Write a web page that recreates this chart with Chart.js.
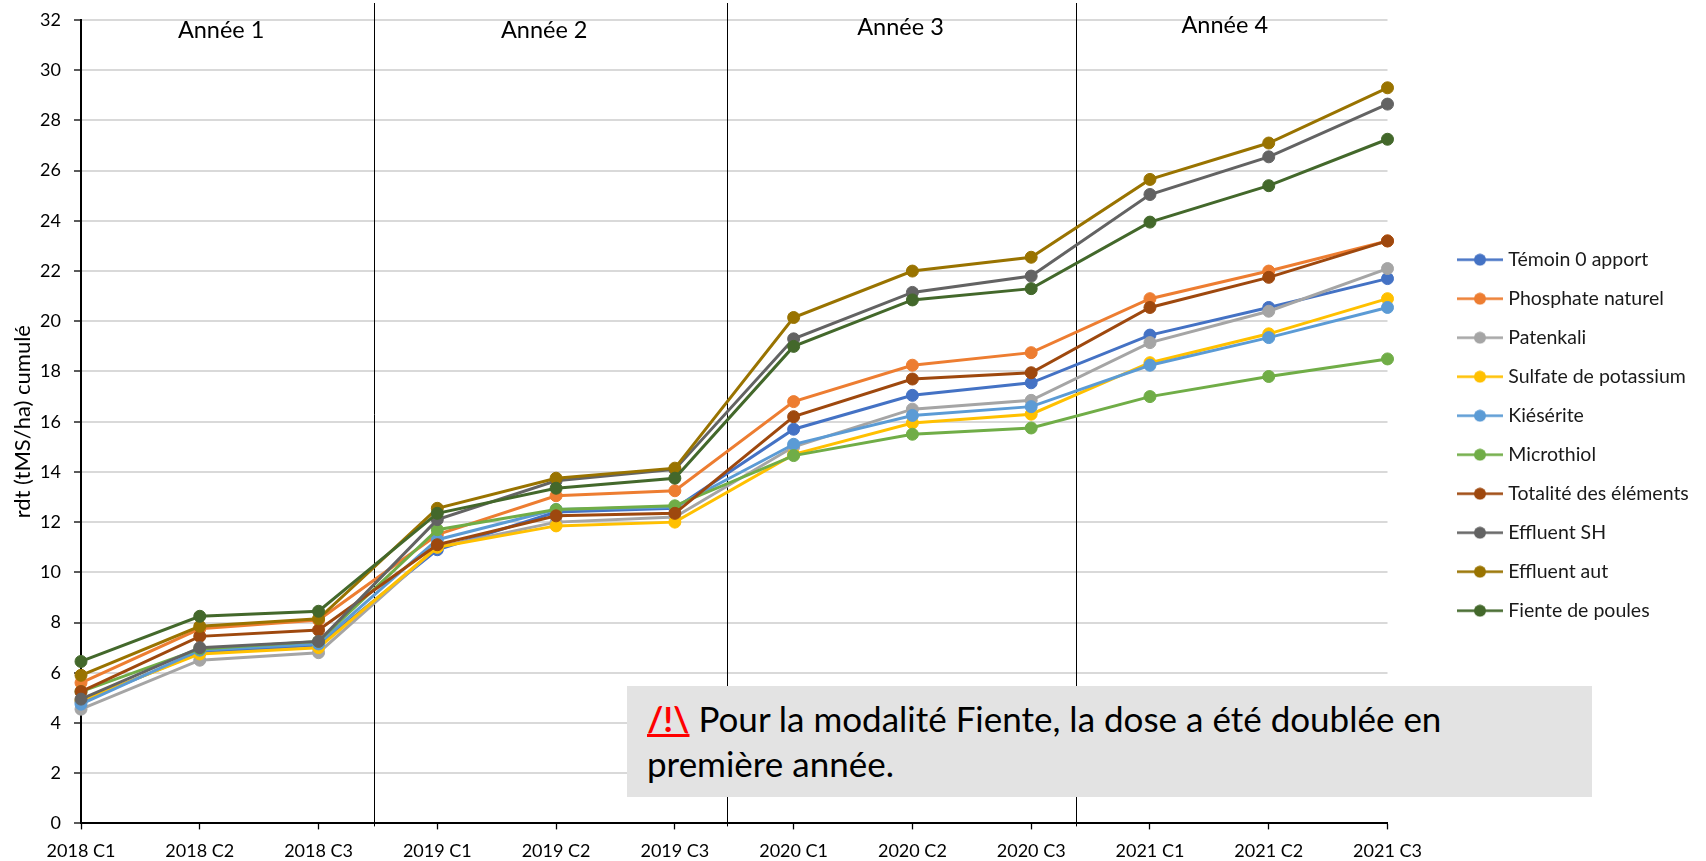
<!DOCTYPE html>
<html lang="fr">
<head>
<meta charset="utf-8">
<title>rdt cumulé</title>
<script src="https://cdn.jsdelivr.net/npm/chart.js@4"></script>
<style>
html,body{margin:0;padding:0;background:#fff;width:1706px;height:861px;overflow:hidden}
#wrap{position:relative;width:1706px;height:861px}
canvas{position:absolute;left:0;top:0}
#note{position:absolute;left:627px;top:686px;width:965px;height:111px;background:#e3e3e3;box-sizing:border-box;padding:10px 20px 0 20px;font:35px/45px Lato,sans-serif;color:#000}
#note .w{color:#f00;font-weight:700;text-decoration:underline;text-decoration-thickness:3px}
</style>
</head>
<body>
<div id="wrap">
<canvas id="c" width="1706" height="861"></canvas>
<div id="note"><span class="w">/!\</span> Pour la modalité Fiente, la dose a été doublée en<br>première année.</div>
</div>
<script>
const categories = ['2018 C1','2018 C2','2018 C3','2019 C1','2019 C2','2019 C3','2020 C1','2020 C2','2020 C3','2021 C1','2021 C2','2021 C3'];
const temoin    = [4.85,6.8,7.1,10.9,12.4,12.55,15.7,17.05,17.55,19.45,20.55,21.7];
const phosphate = [5.6,7.75,8.1,11.5,13.05,13.25,16.8,18.25,18.75,20.9,22.0,23.2];
const patenkali = [4.55,6.5,6.8,11.0,12.0,12.2,15.0,16.5,16.85,19.15,20.4,22.1];
const sulfate   = [4.9,6.75,7.0,11.0,11.85,12.0,14.7,15.95,16.3,18.35,19.5,20.9];
const kieserite = [4.75,6.9,7.15,11.3,12.5,12.6,15.1,16.25,16.6,18.25,19.35,20.55];
const microthiol= [5.25,6.95,7.25,11.7,12.5,12.65,14.65,15.5,15.75,17.0,17.8,18.5];
const totalite  = [5.25,7.45,7.7,11.1,12.25,12.35,16.2,17.7,17.95,20.55,21.75,23.2];
const effluentSH= [4.95,7.0,7.25,12.1,13.65,14.1,19.3,21.15,21.8,25.05,26.55,28.65];
const effluentAut=[5.9,7.85,8.15,12.55,13.75,14.15,20.15,22.0,22.55,25.65,27.1,29.3];
const fiente    = [6.45,8.25,8.45,12.35,13.35,13.75,19.0,20.85,21.3,23.95,25.4,27.25];
const seriesNames = ['Témoin 0 apport','Phosphate naturel','Patenkali','Sulfate de potassium','Kiésérite','Microthiol','Totalité des éléments','Effluent SH','Effluent aut','Fiente de poules'];
const seriesValues = [temoin,phosphate,patenkali,sulfate,kieserite,microthiol,totalite,effluentSH,effluentAut,fiente];
const seriesColors = ['#4472C4','#ED7D31','#A5A5A5','#FFC000','#5B9BD5','#70AD47','#9E480E','#636363','#997300','#43682B'];
const yearLabels = ['Année 1','Année 2','Année 3','Année 4'];
const yearLabelX = [1.18,3.9,6.9,9.63];
const yearLabelY = [31.6,31.6,31.7,31.8];
const yearSeparators = [2.47,5.44,8.38];

const FONT = 'Lato, sans-serif';

const legendGlyphs = seriesColors.map(col => {
  const g = document.createElement('canvas');
  g.width = 46; g.height = 13;
  const x = g.getContext('2d');
  x.strokeStyle = col; x.lineWidth = 2.6;
  x.beginPath(); x.moveTo(0,6.5); x.lineTo(46,6.5); x.stroke();
  x.fillStyle = col;
  x.beginPath(); x.arc(23,6.5,6,0,Math.PI*2); x.fill();
  return g;
});

const yearMarks = {
  id:'yearMarks',
  afterLayout(chart){
    const l = chart.legend, p = l.options.labels.padding;
    const dx = 1461.5 - p - l.left, dy = 250 - p - l.top;
    l.left += dx; l.right += dx; l.top += dy; l.bottom += dy;
  },
  beforeDatasetsDraw(chart){
    const {ctx, scales:{x,y}} = chart;
    ctx.save();
    ctx.strokeStyle = '#000'; ctx.lineWidth = 1;
    yearSeparators.forEach(v => {
      const px = Math.round(x.getPixelForValue(v)) + .5;
      ctx.beginPath(); ctx.moveTo(px,3); ctx.lineTo(px,y.bottom+3); ctx.stroke();
    });
    ctx.restore();
  },
  afterDatasetsDraw(chart){
    const {ctx, scales:{x,y}} = chart;
    ctx.save();
    ctx.fillStyle = '#000'; ctx.font = '23.5px '+FONT;
    ctx.textAlign = 'center'; ctx.textBaseline = 'middle';
    yearLabels.forEach((t,i) => ctx.fillText(t, x.getPixelForValue(yearLabelX[i]), y.getPixelForValue(yearLabelY[i])));
    ctx.restore();
  }
};

new Chart(document.getElementById('c'), {
  type:'line',
  data:{
    labels:categories,
    datasets:seriesNames.map((n,i)=>({
      label:n, data:seriesValues[i], order:seriesNames.length-1-i,
      borderColor:seriesColors[i], backgroundColor:seriesColors[i],
      pointBackgroundColor:seriesColors[i], pointBorderColor:seriesColors[i],
      borderWidth:3, pointRadius:6, pointBorderWidth:1, tension:0, fill:false, clip:false
    }))
  },
  options:{
    responsive:false, animation:false,
    layout:{padding:{left:0,top:20,right:318.5,bottom:0}},
    plugins:{
      title:{display:false}, tooltip:{enabled:false},
      legend:{
        position:'chartArea', align:'start',
        labels:{
          usePointStyle:true, pointStyleWidth:37, boxHeight:13,
          padding:19.5, color:'#1a1a1a', font:{family:FONT,size:19.5},
          generateLabels(chart){
            return Chart.defaults.plugins.legend.labels.generateLabels(chart)
              .map(it=>({...it,pointStyle:legendGlyphs[it.datasetIndex]}))
              .sort((a,b)=>a.datasetIndex-b.datasetIndex);
          }
        }
      }
    },
    scales:{
      x:{
        type:'category', offset:false,
        border:{color:'#000',width:2},
        grid:{display:true,drawOnChartArea:false,drawTicks:true,tickLength:6,tickColor:'#000',tickWidth:1.3},
        ticks:{color:'#000',font:{family:FONT,size:18},maxRotation:0,autoSkip:false,padding:11},
        afterFit(s){s.height=37.6;}
      },
      y:{
        min:0,max:32,
        border:{color:'#000',width:2},
        grid:{color:'#d9d9d9',lineWidth:2,drawTicks:true,tickLength:7,tickColor:'#000',tickWidth:1.3},
        ticks:{stepSize:2,color:'#000',font:{family:FONT,size:18},padding:13},
        title:{display:true,text:'rdt (tMS/ha) cumulé',color:'#000',font:{family:FONT,size:22},padding:{top:10,bottom:0}},
        afterFit(s){s.width=81;s.paddingTop=0;s.paddingBottom=0;}
      }
    }
  },
  plugins:[yearMarks]
});
</script>
</body>
</html>
